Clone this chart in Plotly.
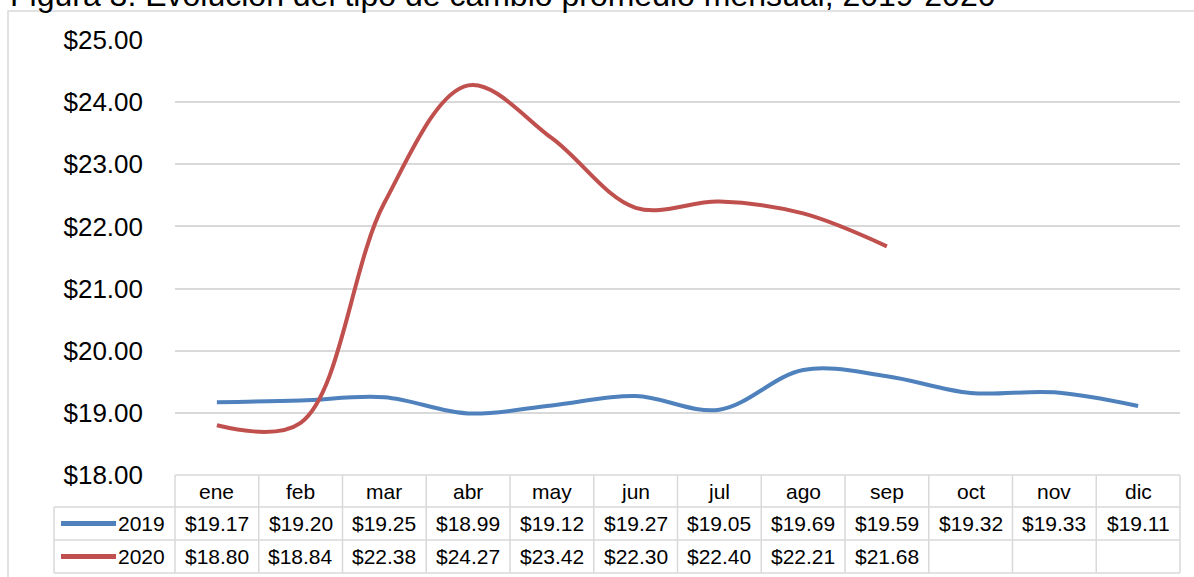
import plotly.graph_objects as go

# datos: tipo de cambio promedio mensual (pesos por dolar)
meses = ["ene", "feb", "mar", "abr", "may", "jun", "jul", "ago", "sep", "oct", "nov", "dic"]
tc_2019 = [19.17, 19.20, 19.25, 18.99, 19.12, 19.27, 19.05, 19.69, 19.59, 19.32, 19.33, 19.11]
tc_2020 = [18.80, 18.84, 22.38, 24.27, 23.42, 22.30, 22.40, 22.21, 21.68, None, None, None]
series = {"2019": (tc_2019, "#4f81bd"), "2020": (tc_2020, "#c0504d")}

W, H = 1194, 577
FONT = "Liberation Sans, Arial, sans-serif"
GRID = "#d9d9d9"

def px_x(p):
    return p / W

def px_y(p):
    return 1 - p / H

# area del grafico en pixeles
x0, x1 = 175, 1180
y_top, y_bot = 40, 475
rows = [475, 507, 540, 573]
leg_x = 54
ancho = (x1 - x0) / len(meses)

fig = go.Figure()
for nombre, (vals, color) in series.items():
    fig.add_trace(go.Scatter(
        x=meses, y=vals, name=nombre, mode="lines",
        line=dict(color=color, width=4, shape="spline", smoothing=1),
        connectgaps=False, showlegend=False,
    ))

shapes = []
# marco exterior
shapes.append(dict(type="rect", xref="paper", yref="paper",
                   x0=px_x(8), x1=px_x(W + 20), y0=px_y(H + 20), y1=px_y(11),
                   line=dict(color=GRID, width=1.5)))
# lineas horizontales de la tabla
for i, r in enumerate(rows):
    left = x0 if i == 0 else leg_x
    shapes.append(dict(type="line", xref="paper", yref="paper",
                       x0=px_x(left), x1=px_x(x1), y0=px_y(r), y1=px_y(r),
                       line=dict(color=GRID, width=1.5)))
# lineas verticales
for k in range(len(meses) + 1):
    xx = x0 + ancho * k
    shapes.append(dict(type="line", xref="paper", yref="paper",
                       x0=px_x(xx), x1=px_x(xx), y0=px_y(rows[0]), y1=px_y(rows[-1]),
                       line=dict(color=GRID, width=1.5)))
shapes.append(dict(type="line", xref="paper", yref="paper",
                   x0=px_x(leg_x), x1=px_x(leg_x), y0=px_y(rows[1]), y1=px_y(rows[-1]),
                   line=dict(color=GRID, width=1.5)))

txt = dict(size=21, color="#000", family=FONT)
annotations = []
# encabezado de meses
for m in meses:
    annotations.append(dict(x=m, xref="x", y=px_y((rows[0] + rows[1]) / 2), yref="paper",
                            yanchor="middle", text=m, showarrow=False, font=txt))
# filas de valores y claves de leyenda
for j, (nombre, (vals, color)) in enumerate(series.items()):
    yc = (rows[j + 1] + rows[j + 2]) / 2
    shapes.append(dict(type="line", xref="paper", yref="paper",
                       x0=px_x(61), x1=px_x(116), y0=px_y(yc), y1=px_y(yc),
                       line=dict(color=color, width=5)))
    annotations.append(dict(x=px_x(167), xref="paper", xanchor="right", y=px_y(yc), yref="paper",
                            yanchor="middle", text=nombre, showarrow=False, font=txt))
    for m, v in zip(meses, vals):
        if v is None:
            continue
        annotations.append(dict(x=m, xref="x", y=px_y(yc), yref="paper", yanchor="middle",
                                text=f"${v:.2f}", showarrow=False, font=txt))

# titulo (cortado en la parte superior, como en la imagen original)
annotations.append(dict(x=px_x(8), xref="paper", xanchor="left", y=px_y(15), yref="paper", yanchor="bottom",
                        text="Figura 3. Evolución del tipo de cambio promedio mensual, 2019-2020",
                        showarrow=False, font=dict(size=32, color="#000", family=FONT)))

fig.update_layout(
    width=W, height=H, autosize=False,
    margin=dict(l=0, r=0, t=0, b=0, pad=0, autoexpand=False),
    paper_bgcolor="white", plot_bgcolor="white",
    font=dict(family=FONT, color="#000"),
    shapes=shapes, annotations=annotations,
    xaxis=dict(domain=[px_x(x0), px_x(x1)], type="category", range=[-0.5, 11.5],
               showticklabels=False, showgrid=False, zeroline=False, showline=False,
               ticks="", automargin=False),
    yaxis=dict(domain=[px_y(y_bot), px_y(y_top)], range=[18, 25], dtick=1,
               tickprefix="$", tickformat=".2f", tickfont=dict(size=26, color="#000"),
               showgrid=True, gridcolor=GRID, gridwidth=1.5, zeroline=False, showline=False,
               ticks="", ticklabelstandoff=31, automargin=False),
)

# quitar el margen del body para que la figura empiece en (0, 0)
fig.write_html("out.html", config={"displayModeBar": False},
               post_script="document.body.style.margin = '0';")
